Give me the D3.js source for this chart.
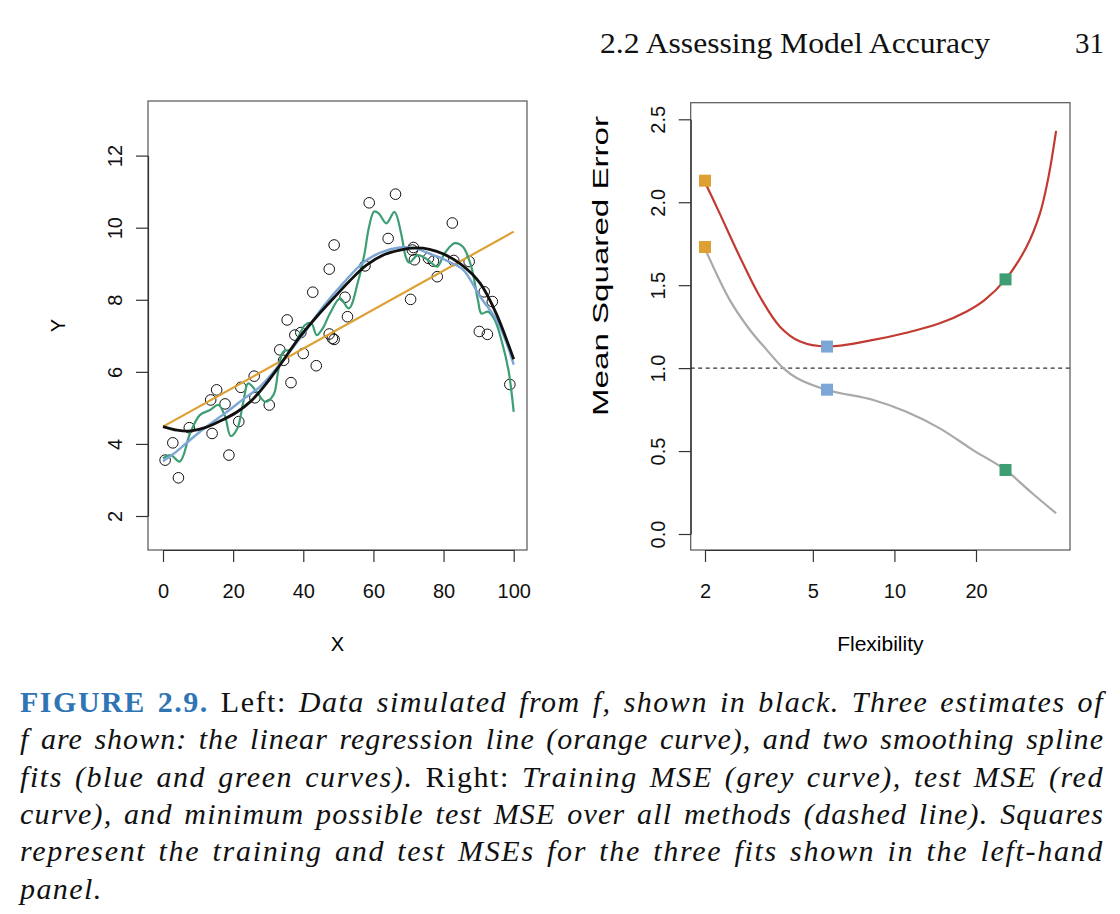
<!DOCTYPE html>
<html>
<head>
<meta charset="utf-8">
<script src="https://cdn.jsdelivr.net/npm/d3@7"></script>
<style>
  html, body { margin: 0; padding: 0; background: #fff; }
  svg { display: block; }
</style>
</head>
<body>
<svg id="fig" width="1120" height="914"></svg>
<script>
// ---------------- DATA ----------------
// Left panel: simulated observations (X, Y)
const obsX = [0.6, 2.8, 4.4, 7.5, 13.6, 14.0, 15.3, 17.7, 18.8, 21.6, 22.2, 26.0, 26.2, 30.3, 33.3, 34.4, 35.4, 36.5, 37.6, 39.3,
              40.0, 42.7, 43.7, 47.4, 48.3, 48.8, 47.4, 48.8, 51.9, 52.6, 57.6, 58.8, 64.2, 66.3, 70.6, 71.4, 71.1, 71.7, 75.7, 77.1,
              78.2, 82.5, 82.9, 87.3, 91.6, 93.9, 90.2, 92.5, 98.9];
const obsY = [3.55, 4.03, 3.06, 4.45, 5.22, 4.29, 5.50, 5.11, 3.69, 4.62, 5.57, 5.88, 5.28, 5.08, 6.61, 6.32, 7.44, 5.70, 7.02, 7.09,
              6.51, 8.21, 6.17, 7.05, 6.93, 6.90, 8.85, 9.52, 8.07, 7.53, 8.94, 10.69, 9.70, 10.93, 8.01, 9.45, 9.38, 9.11, 9.15, 9.07,
              8.64, 10.13, 9.09, 9.06, 8.22, 7.95, 7.12, 7.04, 5.65];

// true f (black)
const trueX = [0, 4, 8, 12, 16, 21, 25, 29, 33, 39, 44, 48.6, 53, 58, 63, 67.6, 72, 76, 80, 85, 90.4, 95, 100];
const trueY = [4.48, 4.38, 4.36, 4.45, 4.62, 4.88, 5.18, 5.62, 6.14, 6.97, 7.55, 8.04, 8.5, 8.96, 9.25, 9.38, 9.44, 9.4, 9.27, 8.98, 8.46, 7.62, 6.35];

// linear regression (orange)
const linX = [0, 100];
const linY = [4.48, 9.89];

// smoothing spline, low flexibility (blue)
const blueX = [0, 4, 7.7, 12, 18.2, 23, 27.7, 34.3, 40, 45.7, 51.4, 57.1, 62, 67.6, 72, 77, 81, 85.6, 90.4, 95.1, 98, 100];
const blueY = [3.52, 3.8, 4.11, 4.45, 4.89, 5.25, 5.59, 6.33, 7.05, 7.81, 8.46, 9.03, 9.31, 9.45, 9.42, 9.24, 9.08, 8.83, 8.09, 7.44, 6.79, 6.2];

// smoothing spline, high flexibility (green)
const greenX = [0, 2.2, 4.8, 7.7, 10.5, 13.4, 15.8, 17.7, 19.3, 21.2, 22.9, 24.3, 26.7, 29.1, 31.5, 32.9, 34.3, 36.5, 38.5, 40.5,
                42.3, 43.8, 45.5, 47.6, 50.5, 53.0, 55.6, 57.5, 58.7, 60.2, 61.5, 63.7, 66.0, 67.9, 69.2, 70.2, 72.7, 75.6, 78.2, 80.3,
                83.2, 85.5, 87.9, 89.8, 90.8, 92.7, 94.6, 96.5, 98.5, 100];
const greenY = [3.60, 3.69, 3.51, 4.29, 4.80, 4.94, 5.08, 4.76, 4.22, 4.43, 5.17, 5.68, 5.45, 5.17, 5.36, 6.05, 6.56, 6.62, 6.95, 7.30,
                7.35, 7.02, 7.20, 7.62, 8.04, 7.76, 8.50, 9.30, 10.00, 10.45, 10.40, 10.12, 10.44, 9.84, 9.20, 9.03, 9.24, 9.10, 8.92, 9.29,
                9.57, 9.47, 8.92, 7.99, 7.62, 7.67, 7.44, 6.88, 6.05, 4.89];

const leftXTicks = [0, 20, 40, 60, 80, 100];
const leftYTicks = [2, 4, 6, 8, 10, 12];

// Right panel: MSE vs flexibility
const testDf  = [2, 2.27, 2.69, 3.19, 3.78, 4.49, 5.64, 8.36, 11.07, 14.7, 18.4, 21.5, 25.7, 30.7, 34.4, 37.0, 39.5];
const testMSE = [2.12, 1.93, 1.67, 1.43, 1.25, 1.16, 1.13, 1.17, 1.213, 1.27, 1.34, 1.41, 1.535, 1.73, 1.93, 2.15, 2.43];

const trainDf  = [2, 2.47, 2.93, 3.38, 3.89, 4.36, 5.64, 8.36, 11.07, 14.7, 19.5, 25.7, 32, 39.5];
const trainMSE = [1.72, 1.41, 1.23, 1.11, 1.0, 0.94, 0.868, 0.808, 0.737, 0.637, 0.506, 0.386, 0.25, 0.125];

const irreducible = 1.0;

const fitDf    = [2, 5.64, 25.7];
const fitTrain = [1.73, 0.87, 0.386];
const fitTest  = [2.13, 1.13, 1.535];

const rightXTicks = [2, 5, 10, 20];
const rightYTicks = [0.0, 0.5, 1.0, 1.5, 2.0, 2.5];

const headerText = "2.2 Assessing Model Accuracy";
const pageNumber = "31";

// caption lines: [text, style] segments
const captionLines = [
  [["FIGURE 2.9.", "fig"], [" Left: ", "rm"], ["Data simulated from f, shown in black. Three estimates of", "it"]],
  [["f are shown: the linear regression line (orange curve), and two smoothing spline", "it"]],
  [["fits (blue and green curves).", "it"], [" Right: ", "rm"], ["Training MSE (grey curve), test MSE (red", "it"]],
  [["curve), and minimum possible test MSE over all methods (dashed line). Squares", "it"]],
  [["represent the training and test MSEs for the three fits shown in the left-hand", "it"]],
  [["panel.", "it"]]
];

// ---------------- STYLE ----------------
const COL = {
  black: "#111111", orange: "#DDA033", blue: "#7BA6D6", green: "#3D9E74",
  red: "#C23B32", grey: "#A9A9A9", box: "#555555", fig: "#2F74B5"
};
const sansFont = "'Liberation Sans', Arial, Helvetica, sans-serif";
const serifFont = "'Liberation Serif', 'DejaVu Serif', serif";

const svg = d3.select("#fig");

// ---------------- LEFT PANEL ----------------
const L = { left: 148, right: 527, top: 101, bottom: 550 };
const xL = d3.scaleLinear().domain([0, 100]).range([163, 513.7]);
const yL = d3.scaleLinear().domain([2, 12]).range([516, 155.6]);

const gL = svg.append("g");
gL.append("rect").attr("x", L.left).attr("y", L.top)
  .attr("width", L.right - L.left).attr("height", L.bottom - L.top)
  .attr("fill", "none").attr("stroke", COL.box).attr("stroke-width", 1.2);

function styleYAxis(g) {
  g.selectAll("path.domain").attr("stroke", "#333").attr("stroke-width", 1.2);
  g.selectAll(".tick line").attr("stroke", "#333").attr("stroke-width", 1.2);
  g.selectAll(".tick text")
    .attr("x", 0).attr("dy", 0).attr("y", -26)
    .attr("transform", "rotate(-90)")
    .attr("text-anchor", "middle")
    .attr("fill", "#111")
    .style("font-family", sansFont).style("font-size", "20px");
}
function styleXAxis(g) {
  g.selectAll("path.domain").attr("stroke", "#333").attr("stroke-width", 1.2);
  g.selectAll(".tick line").attr("stroke", "#333").attr("stroke-width", 1.2);
  g.selectAll(".tick text")
    .attr("y", 48).attr("dy", 0)
    .attr("fill", "#111")
    .style("font-family", sansFont).style("font-size", "20px");
}

gL.append("g").attr("transform", `translate(${L.left},0)`)
  .call(d3.axisLeft(yL).tickValues(leftYTicks).tickFormat(d3.format("d")).tickSize(12).tickSizeOuter(0))
  .call(styleYAxis);
gL.append("g").attr("transform", `translate(0,${L.bottom})`)
  .call(d3.axisBottom(xL).tickValues(leftXTicks).tickFormat(d3.format("d")).tickSize(12).tickSizeOuter(0))
  .call(styleXAxis);

const lineL = d3.line().x(d => xL(d[0])).y(d => yL(d[1])).curve(d3.curveCatmullRom.alpha(0.5));
const zip = (a, b) => a.map((v, i) => [v, b[i]]);

// points
gL.append("g").selectAll("circle").data(zip(obsX, obsY)).join("circle")
  .attr("cx", d => xL(d[0])).attr("cy", d => yL(d[1])).attr("r", 5.3)
  .attr("fill", "none").attr("stroke", "#111").attr("stroke-width", 1);

gL.append("path").datum(zip(linX, linY)).attr("d", d3.line().x(d => xL(d[0])).y(d => yL(d[1])))
  .attr("fill", "none").attr("stroke", COL.orange).attr("stroke-width", 2.2);
gL.append("path").datum(zip(greenX, greenY)).attr("d", lineL)
  .attr("fill", "none").attr("stroke", COL.green).attr("stroke-width", 2.2);
gL.append("path").datum(zip(blueX, blueY)).attr("d", lineL)
  .attr("fill", "none").attr("stroke", COL.blue).attr("stroke-width", 2.4);
gL.append("path").datum(zip(trueX, trueY)).attr("d", lineL)
  .attr("fill", "none").attr("stroke", COL.black).attr("stroke-width", 2.8);

gL.append("text").attr("x", (L.left + L.right) / 2).attr("y", 651)
  .attr("text-anchor", "middle").style("font-family", sansFont).style("font-size", "20px").text("X");
gL.append("text").attr("transform", `translate(65,${(L.top + L.bottom) / 2}) rotate(-90)`)
  .attr("text-anchor", "middle").style("font-family", sansFont).style("font-size", "20px").text("Y");

// ---------------- RIGHT PANEL ----------------
const R = { left: 690.7, right: 1070, top: 102.7, bottom: 550 };
const xR = d3.scaleLog().domain([2, 20]).range([705, 976]);
const yR = d3.scaleLinear().domain([0, 2.5]).range([534, 119.3]);

const gR = svg.append("g");
gR.append("rect").attr("x", R.left).attr("y", R.top)
  .attr("width", R.right - R.left).attr("height", R.bottom - R.top)
  .attr("fill", "none").attr("stroke", COL.box).attr("stroke-width", 1.2);

gR.append("g").attr("transform", `translate(${R.left},0)`)
  .call(d3.axisLeft(yR).tickValues(rightYTicks).tickFormat(d3.format(".1f")).tickSize(12).tickSizeOuter(0))
  .call(styleYAxis);
gR.append("g").attr("transform", `translate(0,${R.bottom})`)
  .call(d3.axisBottom(xR).tickValues(rightXTicks).tickFormat(d3.format("d")).tickSize(12).tickSizeOuter(0))
  .call(styleXAxis);

const lineR = d3.line().x(d => xR(d[0])).y(d => yR(d[1])).curve(d3.curveCatmullRom.alpha(0.5));

gR.append("line").attr("x1", R.left).attr("x2", R.right)
  .attr("y1", yR(irreducible)).attr("y2", yR(irreducible))
  .attr("stroke", "#333").attr("stroke-width", 1.1).attr("stroke-dasharray", "4,3.5");

gR.append("path").datum(zip(trainDf, trainMSE)).attr("d", lineR)
  .attr("fill", "none").attr("stroke", COL.grey).attr("stroke-width", 2.2);
gR.append("path").datum(zip(testDf, testMSE)).attr("d", lineR)
  .attr("fill", "none").attr("stroke", COL.red).attr("stroke-width", 2.2);

const sqCol = [COL.orange, COL.blue, COL.green];
const sq = 12;
[fitTrain, fitTest].forEach(vals => {
  gR.append("g").selectAll("rect").data(fitDf.map((d, i) => ({ df: d, v: vals[i], i }))).join("rect")
    .attr("x", d => xR(d.df) - sq / 2).attr("y", d => yR(d.v) - sq / 2)
    .attr("width", sq).attr("height", sq).attr("fill", d => sqCol[d.i]);
});

gR.append("text").attr("x", (R.left + R.right) / 2).attr("y", 651)
  .attr("text-anchor", "middle").style("font-family", sansFont).style("font-size", "21px").text("Flexibility");
gR.append("text").attr("transform", `translate(608,266) rotate(-90)`)
  .attr("text-anchor", "middle").style("font-family", sansFont).style("font-size", "22px")
  .attr("textLength", 300).attr("lengthAdjust", "spacingAndGlyphs").text("Mean Squared Error");

// ---------------- HEADER ----------------
svg.append("text").attr("x", 600).attr("y", 53)
  .style("font-family", serifFont).style("font-size", "29px").attr("fill", "#111")
  .attr("textLength", 390).attr("lengthAdjust", "spacingAndGlyphs").text(headerText);
svg.append("text").attr("x", 1104).attr("y", 53).attr("text-anchor", "end")
  .style("font-family", serifFont).style("font-size", "29px").attr("fill", "#111").text(pageNumber);

// ---------------- CAPTION ----------------
const capLeft = 20, capRight = 1104, capTop = 712, capStep = 37.3;
const lsUsed = [];
const capTexts = captionLines.map((segs, li) => {
  const t = svg.append("text").attr("x", capLeft).attr("y", capTop + li * capStep)
    .style("font-family", serifFont).style("font-size", "30px").attr("fill", "#111")
    .attr("xml:space", "preserve");
  segs.forEach(([txt, st]) => {
    const ts = t.append("tspan").text(txt);
    if (st === "fig") ts.attr("font-weight", "bold").attr("fill", COL.fig);
    if (st === "it") ts.attr("font-style", "italic");
  });
  return t;
});
capTexts.forEach((t, li) => {
  const segs = captionLines[li];
  const full = segs.map(s => s[0]).join("");
  if (li < captionLines.length - 1) {
    const target = capRight - capLeft;
    const w0 = t.node().getComputedTextLength();
    const nSp = (full.match(/ /g) || []).length;
    const ls = Math.max(0, (target - w0 - nSp * 3) / full.length);
    lsUsed.push(ls);
    t.style("letter-spacing", ls + "px");
    const w1 = t.node().getComputedTextLength();
    t.style("word-spacing", ((target - w1) / nSp) + "px");
  } else {
    t.style("letter-spacing", d3.mean(lsUsed) + "px");
  }
});
</script>
</body>
</html>
